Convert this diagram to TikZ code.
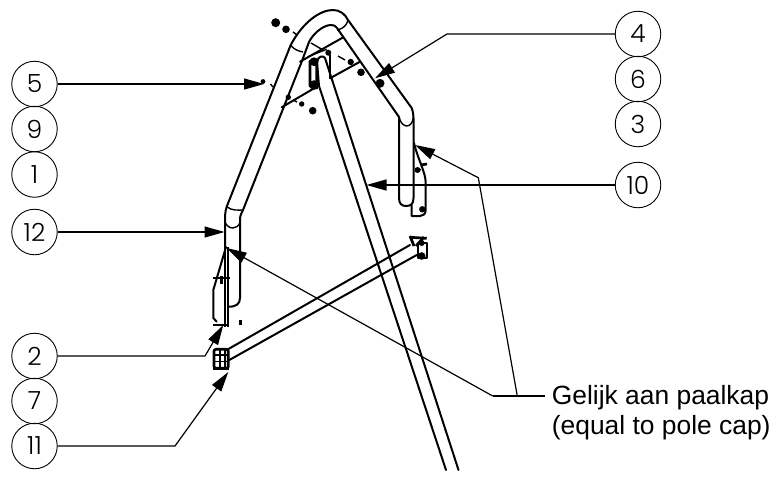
\documentclass[tikz,border=0pt]{standalone}
\usepackage{fontspec}
\setmainfont{Liberation Sans}
\newfontfamily\numfont[UprightFont=* Light]{Poppins}
\usetikzlibrary{arrows.meta}
\tikzset{
  balloon/.style={circle,draw,line width=0.9pt,minimum size=45.5pt,inner sep=0pt,font=\numfont\fontsize{25}{25}\selectfont},
  leader/.style={line width=1.2pt},
  tipped/.style={leader,-{Triangle[length=20pt,width=11pt]}},
  part/.style={line width=2pt,line join=round,line cap=round},
  seam/.style={line width=1.4pt},
  heavy/.style={line width=2.7pt,line join=round},
  hw/.style={fill=black,draw=none},
  notelabel/.style={align=left,anchor=north west,inner sep=0pt,font=\fontsize{26.4}{30}\selectfont}
}
\begin{document}
\begin{tikzpicture}[x=1pt,y=-1pt]
\useasboundingbox (0,0) rectangle (779,477);
% main bow
\draw[part] (226.7,206.7) -- (290.7,45) .. controls (303,22) and (320,10) .. (333,10) .. controls (340,10) and (345,14) .. (348,20) -- (411.7,108)
   .. controls (413,112) and (413.5,115) .. (413.5,118) -- (413.5,198) .. controls (413.5,204) and (411,206) .. (406,206)
   .. controls (402,206) and (399,204) .. (399,198) -- (399,117) -- (337,28) .. controls (335,25) and (332,25) .. (330,25) .. controls (322,26) and (313,34) .. (309,42) -- (301.7,61.7) -- (243,210);
\draw[seam] (290.7,45) .. controls (293,49) and (298,51) .. (303,52);
\draw[seam] (348,20) .. controls (347,25) and (343,29) .. (337,30);
\draw[seam] (399,117) .. controls (402,129) and (412,129) .. (413.5,117);
% left lower tube
\draw[part] (226.7,206.7) .. controls (225,212) and (225,216) .. (225,222) -- (225,247);
\draw[part] (243,210) .. controls (241,214) and (240,216) .. (240,220) -- (240,298) .. controls (240,304) and (236,307) .. (228,306.7);
\draw[seam] (226.7,206.7) .. controls (232,211) and (238,210) .. (243,210);
\draw[seam] (225,222) .. controls (228,230) and (238,230) .. (240,222);
% cross pieces at the top
\draw[part] (300,61.7) -- (343.3,37.3);
\draw[seam] (308,56.7) -- (326.7,49.3);
\draw[part] (281.7,107.3) -- (318,86);
\draw[part] (330,78.3) -- (360,61.7);
\draw[part] (330,55) -- (330,78);
\draw[heavy] (310,61) -- (310,86) -- (316.7,88) -- (316.7,61) -- cycle;
% long tube
\draw[part] (319,86) -- (317,62) .. controls (318,56) and (323,55) .. (325,58) -- (458.5,470);
\draw[part] (319,86) -- (446,470);
% crossbar
\draw[part] (226.7,350) -- (410,245);
\draw[part] (229.3,360) -- (416.7,255);
% right bracket upper
\draw[part] (414,143) .. controls (418,160) and (425.7,172) .. (425.7,183) -- (425.7,210) .. controls (425.7,214) and (423,216) .. (420,216) -- (411.7,216) -- (411.7,205);
\fill[hw] (422.3,209.3) circle (3.2);
\draw[seam] (415,170.5) -- (421,169.5);
\draw[heavy] (421,165) -- (427,164);
\fill[hw] (417.5,170) circle (3);
% right bracket of crossbar
\draw[heavy] (410,237.3) -- (426.7,238.3);
\draw[heavy] (418,243) rectangle (427,258);
\draw[heavy] (410,236) -- (414,246);
\draw[heavy] (424,237) -- (416,246);
\fill[hw] (421.7,243) circle (3);
\fill[hw] (421.7,256) circle (3.8);
% left bracket upper
\draw[heavy] (225,247) -- (225,327);
\draw[heavy] (228,247) -- (228,327);
\draw[part] (226,247) -- (213.3,290) -- (213.3,318) -- (216.7,321.7);
\draw[heavy] (213,325) -- (229,325);
\draw[heavy] (212.7,278) -- (230,278);
\draw[heavy] (221.7,276) -- (221.7,284);
\fill[hw] (238.5,320) rectangle (241.5,325);
% left bracket of crossbar
\draw[heavy,rounded corners=2pt] (214,349.3) rectangle (228.3,368.3);
\draw[seam] (220,349) -- (220,368);
\draw[seam] (225,349) -- (225,368);
\draw[seam] (214,355) -- (228,355);
\draw[seam] (214,361.7) -- (228,361.7);
\draw[heavy] (213,368.5) -- (229,368.5);
% hardware
\fill[hw] (275.7,22.7) circle (4.5);
\fill[hw] (286,29.3) circle (3.8);
\fill[hw] (328.3,52.7) circle (3);
\fill[hw] (350.7,62) circle (3.2);
\fill[hw] (361,72.3) circle (3.8);
\fill[hw] (380,83.3) circle (4.5);
\fill[hw] (288.3,97.3) circle (2.7);
\fill[hw] (301.7,104) circle (2.7);
\fill[hw] (312.7,110.7) circle (3.8);
\fill[hw] (263,81.5) circle (2.4);
\fill[hw] (314,61.7) circle (4.4);
\fill[hw] (314,85) circle (4.8);
\draw[seam] (293,32) -- (297,35);
\draw[seam] (270.5,84) -- (273,87);
\draw[seam] (311,43) -- (323,50);
\draw[seam] (338,56) -- (345,60);
\draw[seam] (293,100) -- (297,102);
% balloons
\node[balloon] (b5) at (34.5,84) {5};
\node[balloon] (b9) at (34.5,129) {9};
\node[balloon] (b1) at (34.5,174.5) {1};
\node[balloon] (b12) at (34.5,232) {12};
\node[balloon] (b2) at (34.5,356) {2};
\node[balloon] (b7) at (34.5,401) {7};
\node[balloon] (b11) at (34.5,446) {11};
\node[balloon] (b4) at (638,34) {4};
\node[balloon] (b6) at (638,79) {6};
\node[balloon] (b3) at (638,124) {3};
\node[balloon] (b10) at (638,185) {10};
% note
\node[notelabel] (note) at (551.7,385) {Gelijk aan paalkap\\(equal to pole cap)};
% connector ends
\coordinate (t5) at (264,84);
\coordinate (t12) at (224.5,232);
\coordinate (t4) at (375,78.3);
\coordinate (e4) at (447,34);
\coordinate (t10) at (366.5,185);
\coordinate (t2) at (223.3,325);
\coordinate (e2) at (205,356);
\coordinate (t11) at (228.3,372);
\coordinate (e11) at (175,446);
\coordinate (tcapA) at (415,145);
\coordinate (tcapB) at (226.7,248);
\coordinate (ecapA) at (478.3,177.7);
\coordinate (jA) at (517.3,396);
\coordinate (jB) at (492.7,396);
\coordinate (nstart) at (545,396);
% connectors
\draw[tipped] (b5.east) -- (t5);
\draw[tipped] (b12.east) -- (t12);
\draw[tipped] (b4.west) -- (e4) -- (t4);
\draw[tipped] (b10.west) -- (t10);
\draw[tipped] (b2.east) -- (e2) -- (t2);
\draw[tipped] (b11.east) -- (e11) -- (t11);
\draw[leader] (nstart) -- (jB);
\draw[tipped] (jA) -- (ecapA) -- (tcapA);
\draw[tipped] (jB) -- (tcapB);
\end{tikzpicture}
\end{document}
